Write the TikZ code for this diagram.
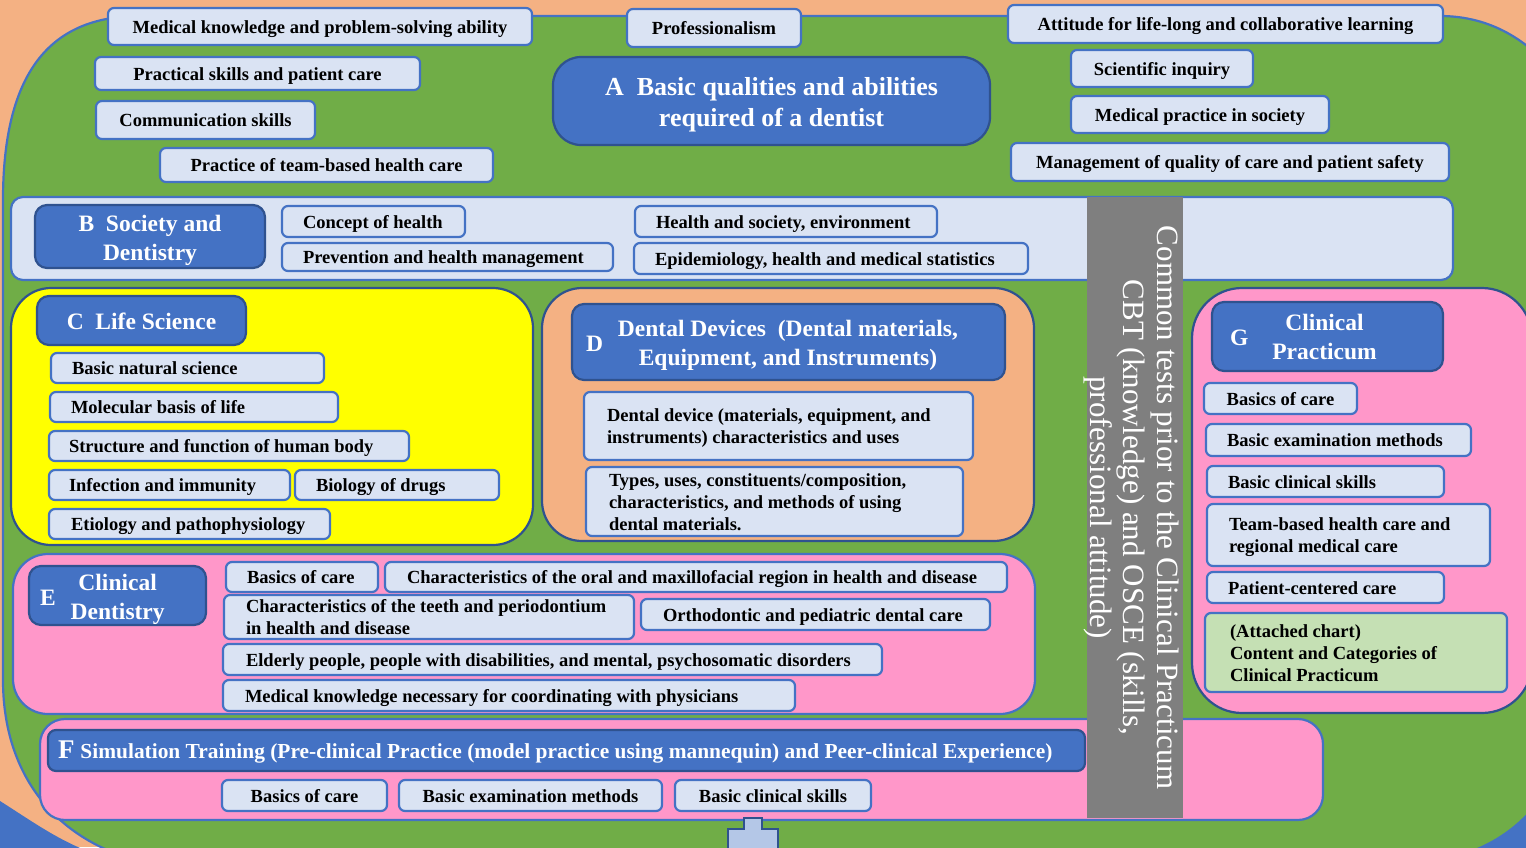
\documentclass[tikz,border=0pt]{standalone}
\usepackage{fontspec}
\setmainfont{Liberation Serif}
\definecolor{cOrange}{HTML}{F4B183}
\definecolor{cGreen}{HTML}{70AD47}
\definecolor{blu}{HTML}{4472C4}
\definecolor{dblu}{HTML}{2F528F}
\definecolor{cLight}{HTML}{DAE3F3}
\definecolor{cPink}{HTML}{FF97C9}
\definecolor{cYellow}{HTML}{FFFF00}
\definecolor{cGray}{HTML}{7F7F7F}
\definecolor{cLGreen}{HTML}{C5E0B4}
\definecolor{cArrow}{HTML}{B4C7E7}
\newcommand\myitemfont{\bfseries\fontsize{18.5}{22}\selectfont}
\newcommand\myheadfont{\bfseries\fontsize{23.5}{29}\selectfont}
\newcommand\mybarfont{\fontsize{31}{33.5}\selectfont}
\newcommand\mydrop{-2.5pt}
\newcommand\rb[7]{%
 \pgfmathsetmacro\rbcx{(#3+#5)/2}%
 \pgfmathsetmacro\rbcy{(#4+#6)/2}%
 \pgfmathsetmacro\rbw{#5-#3}%
 \pgfmathsetmacro\rbh{#6-#4}%
 \node[#2, minimum width=\rbw pt, minimum height=\rbh pt] (#1) at (\rbcx,\rbcy) {\raisebox{\mydrop}[\height][\depth]{\begin{tabular}{@{}c@{}}#7\end{tabular}}};}
\newcommand\rbl[8]{%
 \pgfmathsetmacro\rbcx{(#3+#5)/2}%
 \pgfmathsetmacro\rbcy{(#4+#6)/2}%
 \pgfmathsetmacro\rbw{#5-#3}%
 \pgfmathsetmacro\rbh{#6-#4}%
 \pgfmathsetmacro\rbtw{#5-#3-2*#7}%
 \node[#2, minimum width=\rbw pt, minimum height=\rbh pt] (#1) at (\rbcx,\rbcy) {\raisebox{\mydrop}[\height][\depth]{\makebox[\rbtw pt][l]{\begin{tabular}{@{}l@{}}#8\end{tabular}}}};}
\tikzset{
 item/.style={draw=blu, fill=cLight, line width=2.2pt, rounded corners=6pt, text=black, font=\myitemfont, inner sep=0pt},
 head/.style={draw=dblu, fill=blu, line width=2.2pt, rounded corners=12pt, text=white, font=\myheadfont, inner sep=0pt},
 cont/.style={line width=2.2pt, inner sep=0pt},
 barst/.style={fill=cGray, text=white, font=\mybarfont, inner sep=0pt},
}
\begin{document}
\begin{tikzpicture}[x=1pt,y=-1pt]
\useasboundingbox (0,0) rectangle (1526,847);
\clip (0,0) rectangle (1526,847);
% background
\fill[cOrange] (0,0) rectangle (1526,847);
\fill[blu] (0,801) .. controls (30,820) and (55,838) .. (85,850) -- (0,850) -- cycle;
\fill[blu] (1380,760) rectangle (1530,850);
\draw[fill=cGreen, draw=blu, line width=2.2pt] (3,200) .. controls (3,60) and (60,16) .. (140,16) -- (1440,16) .. controls (1490,16) and (1530,40) .. (1560,80) -- (1560,740) .. controls (1560,790) and (1515,847) .. (1440,860) -- (120,855) .. controls (50,830) and (3,770) .. (3,680) -- cycle;
% A
\rb{t1}{item}{108}{8}{532}{45}{Medical knowledge and problem-solving ability}
\rb{t2}{item}{627}{9}{801}{47}{Professionalism}
\rb{t3}{item}{1008}{5}{1443}{43}{Attitude for life-long and collaborative learning}
\rb{t4}{item}{95}{57}{420}{90}{Practical skills and patient care}
\rb{t5}{item}{96}{101}{315}{139}{Communication skills}
\rb{t6}{item}{160}{148}{493}{182}{Practice of team-based health care}
\renewcommand\mydrop{-3.5pt}
\rb{hA}{head, rounded corners=28pt, font=\bfseries\fontsize{26}{31}\selectfont}{553}{57}{990}{145}{A\ \ Basic qualities and abilities\\required of a dentist}
\renewcommand\mydrop{-2.5pt}
\rb{t7}{item}{1071}{50}{1253}{87}{Scientific inquiry}
\rb{t8}{item}{1071}{96}{1329}{133}{Medical practice in society}
\rb{t9}{item}{1011}{143}{1449}{181}{Management of quality of care and patient safety}
% B
\rb{cB}{cont, fill=cLight, draw=blu, rounded corners=12pt}{11}{197}{1453}{280}{}
\renewcommand\mydrop{-3.5pt}
\rb{hB}{head}{35}{205}{265}{268}{B\ \ Society and\\Dentistry}
\renewcommand\mydrop{-2.5pt}
\rbl{b1}{item}{282}{206}{465}{237}{21}{Concept of health}
\rbl{b2}{item}{282}{243}{613}{271}{21}{Prevention and health management}
\rbl{b3}{item}{635}{206}{937}{237}{21}{Health and society, environment}
\rbl{b4}{item}{634}{243}{1028}{274}{21}{Epidemiology, health and medical statistics}
% C
\rb{cC}{cont, fill=cYellow, draw=dblu, rounded corners=40pt}{11}{288}{533}{545}{}
\renewcommand\mydrop{-3.5pt}
\rb{hC}{head}{37}{296}{246}{345}{C\ \ Life Science}
\renewcommand\mydrop{-2.5pt}
\rbl{c1}{item}{51}{353}{324}{383}{21}{Basic natural science}
\rbl{c2}{item}{50}{392}{338}{422}{21}{Molecular basis of life}
\rbl{c3}{item}{49}{431}{409}{461}{20}{Structure and function of human body}
\rbl{c4}{item}{49}{470}{290}{500}{20}{Infection and immunity}
\rbl{c5}{item}{295}{470}{499}{500}{21}{Biology of drugs}
\rbl{c6}{item}{49}{509}{330}{539}{22}{Etiology and pathophysiology}
% D
\rb{cD}{cont, fill=cOrange, draw=dblu, rounded corners=40pt}{542}{288}{1034}{541}{}
\renewcommand\mydrop{-3.5pt}
\rbl{hD}{head}{572}{304}{1005}{380}{14}{D\hspace{15pt}\begin{tabular}{@{}c@{}}Dental Devices\ \ (Dental materials,\\Equipment, and Instruments)\end{tabular}}
\renewcommand\mydrop{-2.5pt}
\rbl{d1}{item}{584}{392}{973}{460}{23}{Dental device (materials, equipment, and\\instruments) characteristics and uses}
\rbl{d2}{item}{586}{467}{963}{536}{23}{Types, uses, constituents/composition,\\characteristics, and methods of using\\dental materials.}
% E
\rb{cE}{cont, fill=cPink, draw=blu, rounded corners=35pt}{13}{554}{1035}{714}{}
\renewcommand\mydrop{-3.5pt}
\rbl{hE}{head}{29}{566}{206}{625}{11}{E\hspace{15pt}\begin{tabular}{@{}c@{}}Clinical\\Dentistry\end{tabular}}
\renewcommand\mydrop{-2.5pt}
\rbl{e1}{item}{226}{562}{378}{592}{21}{Basics of care}
\rbl{e2}{item}{385}{562}{1007}{592}{22}{Characteristics of the oral and maxillofacial region in health and disease}
\rbl{e3}{item}{224}{596}{634}{638}{22}{Characteristics of the teeth and periodontium\\in health and disease}
\rbl{e4}{item}{641}{599}{990}{630}{22}{Orthodontic and pediatric dental care}
\rbl{e5}{item}{223}{644}{882}{675}{23}{Elderly people, people with disabilities, and mental, psychosomatic disorders}
\rbl{e6}{item}{223}{680}{795}{711}{22}{Medical knowledge necessary for coordinating with physicians}
% F
\rb{cF}{cont, fill=cPink, draw=blu, rounded corners=25pt}{40}{719}{1323}{820}{}
\renewcommand\mydrop{-3pt}
\rbl{hF}{head, rounded corners=8pt, font=\bfseries\fontsize{21.4}{25}\selectfont}{48}{730}{1085}{771}{10}{{\fontsize{27}{27}\selectfont F}\hspace{6pt}Simulation Training (Pre-clinical Practice (model practice using mannequin) and Peer-clinical Experience)}
\renewcommand\mydrop{-2.5pt}
\rb{f1}{item}{222}{780}{387}{811}{Basics of care}
\rb{f2}{item}{399}{780}{662}{811}{Basic examination methods}
\rb{f3}{item}{675}{780}{871}{811}{Basic clinical skills}
% G
\rb{cG}{cont, fill=cPink, draw=dblu, rounded corners=50pt}{1192}{288}{1532}{713}{}
\renewcommand\mydrop{-3pt}
\rbl{hG}{head}{1212}{302}{1443}{371}{18}{G\hspace{24pt}\begin{tabular}{@{}c@{}}Clinical\\Practicum\end{tabular}}
\renewcommand\mydrop{-2.5pt}
\rb{g1}{item}{1204}{383}{1357}{414}{Basics of care}
\rbl{g2}{item}{1206}{424}{1471}{456}{21}{Basic examination methods}
\rbl{g3}{item}{1207}{466}{1444}{497}{21}{Basic clinical skills}
\rbl{g4}{item}{1207}{504}{1490}{566}{22}{Team-based health care and\\regional medical care}
\rbl{g5}{item}{1207}{572}{1444}{603}{21}{Patient-centered care}
\rbl{g6}{item, fill=cLGreen}{1205}{613}{1507}{692}{25}{(Attached chart)\\Content and Categories of\\Clinical Practicum}
% gray bar
\node[barst, rotate=-90, minimum width=621pt, minimum height=96pt] (bar) at (1135,507.5) {\raisebox{-4pt}[52pt][38pt]{\begin{tabular}{@{}c@{}}Common tests prior to the Clinical Practicum\\CBT (knowledge) and OSCE (skills,\\professional attitude)\end{tabular}}};
% arrow
\draw[fill=cArrow, draw=dblu, line width=1.5pt] (744,818) -- (762,818) -- (762,829) -- (778,829) -- (778,852) -- (728,852) -- (728,829) -- (744,829) -- cycle;
\end{tikzpicture}
\end{document}
